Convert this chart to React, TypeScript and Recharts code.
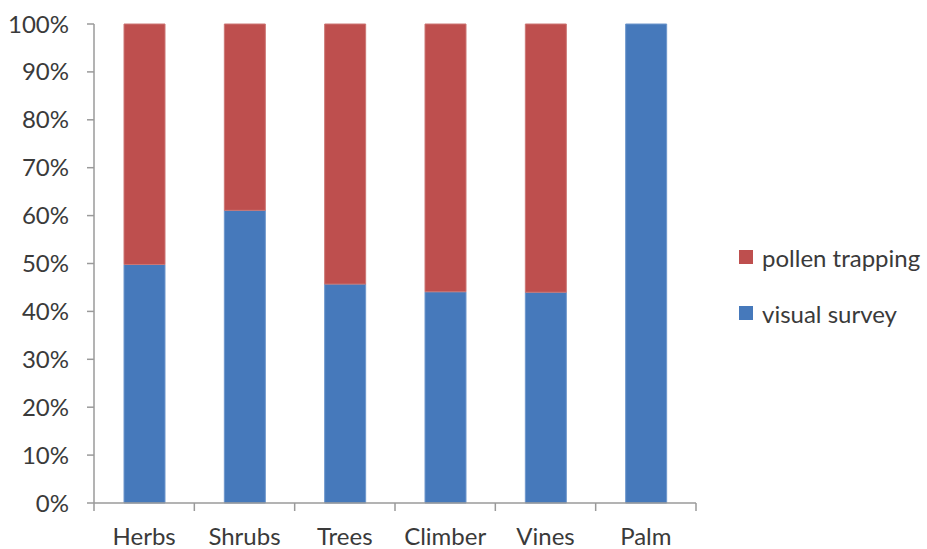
import { BarChart, Bar, XAxis, YAxis } from 'recharts';

const categories = ['Herbs', 'Shrubs', 'Trees', 'Climber', 'Vines', 'Palm'];
const visualSurvey = [49.8, 61.1, 45.7, 44.1, 44.0, 100];
const pollenTrapping = [50.2, 38.9, 54.3, 55.9, 56.0, 0];
const yTicks = [0, 10, 20, 30, 40, 50, 60, 70, 80, 90, 100];

const C = {
  blue: '#4679BB',
  red: '#BE4F4E',
  axis: '#9A9A9A',
  text: '#3A3A3A',
} as const;

const FONT = 'Lato, "Open Sans", sans-serif';
const FONT_SIZE = 24;
const WIDTH = 927;
const HEIGHT = 549;
const X_AXIS_H = 30;
const MARGIN = { top: 24, right: 231, bottom: 46 - X_AXIS_H, left: 0 };
const Y_AXIS_W = 94;
const BAND = (WIDTH - MARGIN.right - MARGIN.left - Y_AXIS_W) / categories.length;

const data = categories.map((name, i) => ({
  name,
  visual: visualSurvey[i],
  pollen: pollenTrapping[i],
}));

// category label at the band centre, tick marks on the band edges
function CategoryTick(props: any) {
  const { x, y, payload, index } = props;
  const half = BAND / 2;
  return (
    <g>
      <line x1={x - half} y1={y} x2={x - half} y2={y + 8} stroke={C.axis} strokeWidth={1.5} />
      {index === categories.length - 1 && (
        <line x1={x + half} y1={y} x2={x + half} y2={y + 8} stroke={C.axis} strokeWidth={1.5} />
      )}
      <text x={x} y={y + 42} textAnchor="middle" fill={C.text} fontSize={FONT_SIZE} fontFamily={FONT}>
        {payload.value}
      </text>
    </g>
  );
}

const legendItems = [
  { label: 'pollen trapping', color: C.red },
  { label: 'visual survey', color: C.blue },
];

export default function App() {
  return (
    <div style={{ position: 'absolute', left: 0, top: 0, width: WIDTH, height: HEIGHT, background: '#fff' }}>
      <BarChart width={WIDTH} height={HEIGHT} data={data} margin={MARGIN} barSize={41}>
        <XAxis
          dataKey="name"
          height={X_AXIS_H}
          axisLine={{ stroke: C.axis, strokeWidth: 1.5 }}
          tickLine={false}
          tickSize={0}
          tickMargin={0}
          tick={<CategoryTick />}
          interval={0}
        />
        <YAxis
          width={Y_AXIS_W}
          domain={[0, 100]}
          ticks={yTicks}
          tickFormatter={(v) => `${v}%`}
          axisLine={{ stroke: C.axis, strokeWidth: 1.5 }}
          tickLine={{ stroke: C.axis, strokeWidth: 1.5 }}
          tickSize={7}
          tickMargin={18}
          tick={{ fill: C.text, fontSize: FONT_SIZE, fontFamily: FONT }}
        />
        <Bar dataKey="visual" stackId="a" fill={C.blue} stroke="#6E97CC" strokeWidth={1} isAnimationActive={false} />
        <Bar dataKey="pollen" stackId="a" fill={C.red} stroke="#CC7775" strokeWidth={1} isAnimationActive={false} />
      </BarChart>
      <div style={{ position: 'absolute', left: 739, top: 243, fontFamily: FONT, fontSize: FONT_SIZE, color: C.text }}>
        {legendItems.map((it) => (
          <div key={it.label} style={{ display: 'flex', alignItems: 'center', height: 28, marginBottom: 28 }}>
            <span style={{ width: 14, height: 14, background: it.color, marginRight: 9, display: 'inline-block' }} />
            <span>{it.label}</span>
          </div>
        ))}
      </div>
    </div>
  );
}
